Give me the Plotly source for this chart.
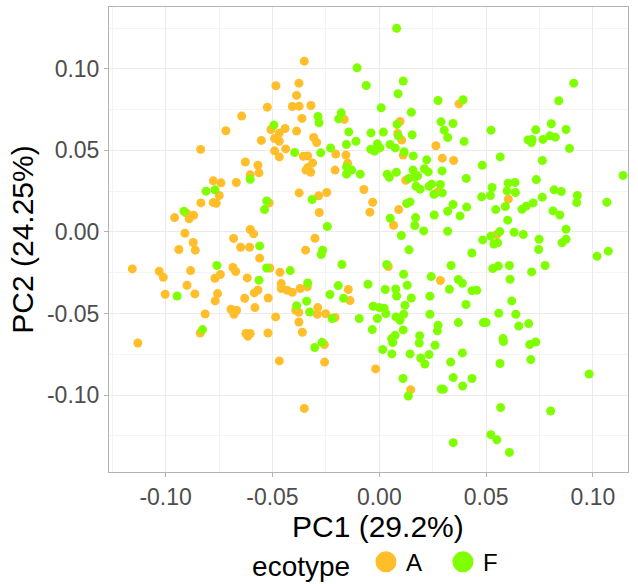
import plotly.graph_objects as go

# PCA scores per ecotype
A_pc1 = [-0.0484, -0.0524, -0.0644, -0.0507, -0.0468, -0.0718, -0.0490, -0.0468, -0.0552, -0.0836,
         -0.0490, -0.0468, -0.0627, -0.0568, -0.0351, -0.0376, -0.0387, -0.0407, -0.0375, -0.0320,
         -0.0362, -0.0164, 0.0097, -0.0441, -0.0387, 0.0086, 0.0105, -0.0307, -0.0293, -0.0438,
         -0.0204, -0.0156, 0.0112, 0.0265, 0.0295, 0.0348, -0.0356, -0.0335, -0.0312, -0.0148,
         0.0373, -0.0563, -0.0604, -0.0777, -0.0741, -0.0669, -0.0749, -0.0835, -0.0777, -0.0763,
         -0.0515, -0.0902, -0.0869, -0.0890, -0.0958, -0.0604, -0.0588, -0.0910, -0.0682, -0.0871,
         -0.0938, -0.0861, -0.0649, -0.0607, -0.0560, -0.1156, -0.1030, -0.1011, -0.0883, -0.0769,
         -0.0744, -0.0685, -0.0672, -0.0618, -0.0512, -0.0465, -0.0900, -0.1002, -0.0863, -0.0757,
         -0.0768, -0.0568, -0.0585, -0.0630, -0.0520, -0.0459, -0.0459, -0.0582, -0.0694, -0.0668,
         -0.0680, -0.0815, -0.0485, -0.0343, -0.0321, -0.0334, -0.0207, 0.0124, 0.0272, -0.0375,
         -0.0284, -0.0246, -0.0072, -0.0031, -0.0044, -0.0281, 0.0091, 0.0067, -0.0301, -0.0345,
         0.0042, 0.0286, -0.0337, -0.0370, -0.0431, -0.0407, -0.0145, -0.0137, -0.0391, -0.0377,
         -0.0288, -0.0290, -0.0251, -0.0207, 0.0604, 0.0551, -0.1130, -0.0838, -0.0624, -0.0604,
         -0.0615, -0.0521, -0.0468, -0.0376, -0.0360, -0.0257, -0.0256, -0.0017, 0.0147, -0.0351]
A_pc2 = [0.0896, 0.0765, 0.0710, 0.0628, 0.0606, 0.0620, 0.0573, 0.0556, 0.0561, 0.0506,
         0.0497, 0.0460, 0.0429, 0.0409, 0.1047, 0.0912, 0.0837, 0.0769, 0.0771, 0.0775,
         0.0696, 0.0690, 0.0677, 0.0634, 0.0618, 0.0604, 0.0563, 0.0579, 0.0548, 0.0509,
         0.0477, 0.0471, 0.0471, 0.0528, 0.0452, 0.0438, 0.0464, 0.0466, 0.0423, 0.0421,
         0.0785, 0.0362, 0.0350, 0.0313, 0.0301, 0.0303, 0.0223, 0.0178, 0.0180, 0.0176,
         0.0178, 0.0115, 0.0102, 0.0080, 0.0088, 0.0015, -0.0012, -0.0008, -0.0040, -0.0065,
         -0.0108, -0.0112, -0.0094, -0.0094, -0.0161, -0.0227, -0.0241, -0.0278, -0.0237, -0.0284,
         -0.0261, -0.0218, -0.0243, -0.0282, -0.0221, -0.0247, -0.0327, -0.0382, -0.0380, -0.0378,
         -0.0423, -0.0356, -0.0374, -0.0407, -0.0405, -0.0317, -0.0347, -0.0464, -0.0474, -0.0480,
         -0.0505, -0.0503, -0.0521, 0.0379, 0.0366, 0.0395, 0.0379, 0.0317, 0.0244, 0.0239,
         0.0221, 0.0242, 0.0260, 0.0182, 0.0121, 0.0119, 0.0137, 0.0041, -0.0039, -0.0112,
         -0.0212, -0.0298, -0.0337, -0.0347, -0.0358, -0.0370, -0.0353, -0.0421, -0.0480, -0.0493,
         -0.0464, -0.0505, -0.0501, -0.0525, 0.0201, -0.0016, -0.0681, -0.0620, -0.0623, -0.0623,
         -0.0640, -0.0620, -0.0791, -0.0552, -0.0615, -0.0691, -0.0798, -0.0840, -0.0967, -0.1082]

F_pc1 = [-0.0493, 0.0081, -0.0104, -0.0061, 0.0112, 0.0088, 0.0009, 0.0275, -0.0287, -0.0282,
         -0.0178, -0.0190, 0.0150, 0.0083, 0.0289, 0.0345, -0.0143, -0.0039, 0.0019, 0.0089,
         0.0304, 0.0320, 0.0154, -0.0396, -0.0274, -0.0228, -0.0154, -0.0109, -0.0040, -0.0022,
         -0.0009, 0.0003, 0.0050, 0.0075, 0.0116, 0.0159, 0.0222,
         0.0910, 0.0392, 0.0840, 0.0523, 0.0805, 0.0732, 0.0874, 0.0397, 0.0696, 0.0715,
         0.0712, 0.0766, 0.0798, 0.0824, 0.0890, 0.0566, 0.0763, 0.0482,
         -0.0604, -0.0811, -0.0769, -0.0527, -0.0537, -0.0914, -0.0560, -0.0760, -0.0527, -0.0563,
         -0.0946,
         -0.0153, -0.0153, -0.0129, -0.0089, 0.0037, 0.0047, 0.0080, 0.0138, 0.0158, 0.0167,
         0.0180, 0.0211, 0.0229, 0.0294, 0.0172, 0.0191, 0.0233, 0.0245, 0.0286, 0.0256,
         0.0295, -0.0314, -0.0243, 0.0128, 0.0144, 0.0051, 0.0170, 0.0166, 0.0257, 0.0320,
         0.0345, 0.0208, 0.0320, 0.0103, -0.0265, -0.0272, 0.0139, -0.0175, 0.0035, 0.0336,
         -0.0417, 0.0114, 0.0243, 0.0328, -0.0335, -0.0192, -0.0053, -0.0231, -0.0167, 0.0028,
         0.0077, 0.0081, 0.0131, 0.0150, 0.0237, -0.0340, -0.0387, -0.0326, -0.0221, -0.0094,
         -0.0029, 0.0000, 0.0023, 0.0031, -0.0009, 0.0078, 0.0114, 0.0120, 0.0237,
         0.0407, 0.0528, 0.0603, 0.0635, 0.0598, 0.0637, 0.0735, 0.0818, 0.0852, 0.0927,
         0.0924, 0.1065, 0.1141, 0.0479, 0.0520, 0.0409, 0.0378, 0.0590, 0.0545, 0.0668,
         0.0688, 0.0720, 0.0763, 0.0813, 0.0845, 0.0601, 0.0564, 0.0522, 0.0484, 0.0631,
         0.0674, 0.0536, 0.0554, 0.0874, 0.0874, 0.0855, 0.0748, 0.0746, 0.0433, 0.1019,
         0.1072, 0.0531, 0.0557, 0.0609, 0.0713, 0.0776, 0.0612, 0.0370, 0.0389, 0.0434,
         0.0456, 0.0406, 0.0620, 0.0559, 0.0639,
         -0.0302, -0.0268, 0.0097, -0.0033, 0.0112, 0.0074, 0.0058, 0.0063, 0.0016, 0.0059,
         0.0275, 0.0272, 0.0189, 0.0187, 0.0261, 0.0144, 0.0194, 0.0233, 0.0213, 0.0334,
         0.0346, 0.0111, 0.0136, 0.0290, 0.0300, 0.0346,
         0.0370, 0.0487, 0.0500, 0.0653, 0.0699, 0.0579, 0.0581, 0.0704, 0.0732, 0.0389,
         0.0565, 0.0709, 0.0982, 0.0390, 0.0434, 0.0568, 0.0802, 0.0522, 0.0550, 0.0609,
         -0.0827]
F_pc2 = [0.0655, 0.1248, 0.1006, 0.0898, 0.0925, 0.0847, 0.0761, 0.0806, 0.0708, 0.0669,
         0.0730, 0.0693, 0.0734, 0.0659, 0.0675, 0.0665, 0.0613, 0.0607, 0.0612, 0.0589,
         0.0624, 0.0579, 0.0595, 0.0487, 0.0485, 0.0515, 0.0536, 0.0556, 0.0507, 0.0495,
         0.0540, 0.0515, 0.0536, 0.0515, 0.0491, 0.0466, 0.0442,
         0.0912, 0.0810, 0.0804, 0.0624, 0.0663, 0.0626, 0.0628, 0.0555, 0.0564, 0.0567,
         0.0548, 0.0567, 0.0589, 0.0581, 0.0512, 0.0460, 0.0438, 0.0409,
         0.0323, 0.0250, 0.0258, 0.0190, 0.0137, 0.0127, -0.0086, -0.0206, -0.0221, -0.0296,
         -0.0393,
         0.0399, 0.0354, 0.0379, 0.0354, 0.0354, 0.0334, 0.0366, 0.0328, 0.0379, 0.0334,
         0.0344, 0.0387, 0.0368, 0.0374, 0.0280, 0.0262, 0.0280, 0.0293, 0.0291, 0.0231,
         0.0239, 0.0199, 0.0033, 0.0174, 0.0184, 0.0084, 0.0088, 0.0039, 0.0104, 0.0127,
         0.0168, 0.0006, 0.0004, -0.0022, -0.0112, -0.0139, -0.0110, -0.0200, -0.0200, -0.0206,
         -0.0237, -0.0260, -0.0274, -0.0352, -0.0313, -0.0329, -0.0321, -0.0384, -0.0407, -0.0353,
         -0.0350, -0.0393, -0.0327, -0.0405, -0.0394, -0.0425, -0.0452, -0.0491, -0.0531, -0.0531,
         -0.0456, -0.0464, -0.0468, -0.0501, -0.0531, -0.0521, -0.0505, -0.0450, -0.0505,
         0.0328, 0.0272, 0.0299, 0.0303, 0.0252, 0.0242, 0.0321, 0.0258, 0.0248, 0.0223,
         0.0180, 0.0182, 0.0346, 0.0215, 0.0223, 0.0152, 0.0098, 0.0156, 0.0137, 0.0139,
         0.0158, 0.0178, 0.0213, 0.0129, 0.0104, 0.0072, 0.0002, -0.0026, -0.0049, -0.0002,
         -0.0016, -0.0074, -0.0067, 0.0017, -0.0045, -0.0067, -0.0045, -0.0108, -0.0129, -0.0149,
         -0.0118, -0.0225, -0.0209, -0.0206, -0.0245, -0.0206, -0.0290, -0.0292, -0.0315, -0.0360,
         -0.0358, -0.0445, -0.0423, -0.0499, -0.0505,
         -0.0709, -0.0677, -0.0542, -0.0599, -0.0601, -0.0634, -0.0654, -0.0679, -0.0721, -0.0748,
         -0.0572, -0.0607, -0.0636, -0.0681, -0.0695, -0.0748, -0.0773, -0.0752, -0.0810, -0.0798,
         -0.0893, -0.0899, -0.1006, -0.0963, -0.0965, -0.1292,
         -0.0556, -0.0556, -0.0556, -0.0577, -0.0562, -0.0654, -0.0672, -0.0691, -0.0675, -0.0742,
         -0.0807, -0.0783, -0.0871, -0.0945, -0.0899, -0.1077, -0.1098, -0.1243, -0.1274, -0.1352,
         -0.0599]

ECOTYPES = ["A", "F"]
COLORS = {"A": "#FFBE2A", "F": "#80FF00"}

X_TICKS = [-0.10, -0.05, 0.00, 0.05, 0.10]
Y_TICKS = [-0.10, -0.05, 0.00, 0.05, 0.10]

X_TITLE = "PC1 (29.2%)"
Y_TITLE = "PC2 (24.25%)"

assert len(A_pc1) == len(A_pc2) and len(F_pc1) == len(F_pc2)

FONT = "Liberation Sans, Arial, sans-serif"
series = {"A": (A_pc1, A_pc2), "F": (F_pc1, F_pc2)}

fig = go.Figure()
for eco in ECOTYPES:
    xs, ys = series[eco]
    fig.add_trace(go.Scatter(
        x=xs, y=ys, mode="markers", name=eco, showlegend=False,
        marker=dict(size=9, color=COLORS[eco], line=dict(width=0)),
    ))
# legend keys: larger discs than the points (outline in the same colour widens them)
for eco in ECOTYPES:
    fig.add_trace(go.Scatter(
        x=[None], y=[None], mode="markers", name=eco, showlegend=True,
        marker=dict(size=16, color=COLORS[eco], line=dict(width=5, color=COLORS[eco])),
    ))

axis_common = dict(
    showline=True, mirror=True, linecolor="#B3B3B3", linewidth=1,
    ticks="outside", ticklen=4, tickcolor="#B3B3B3", tickwidth=1,
    tickfont=dict(family=FONT, size=23, color="#4D4D4D"),
    showgrid=True, gridcolor="#EBEBEB", gridwidth=1,
    minor=dict(dtick=0.025, tick0=0, showgrid=True, gridcolor="#F4F4F4", gridwidth=0.7, ticks=""),
    zeroline=False,
)

fig.update_xaxes(
    range=[-0.1265, 0.1164],
    tickmode="array", tickvals=X_TICKS, ticktext=[f"{v:.2f}" for v in X_TICKS],
    **axis_common,
)
fig.update_yaxes(
    range=[-0.1472, 0.1379],
    tickmode="array", tickvals=Y_TICKS, ticktext=[f"{v:.2f}" for v in Y_TICKS],
    title=dict(text=Y_TITLE, font=dict(family=FONT, size=30, color="black"), standoff=4),
    **axis_common,
)

# x-axis title placed under the tick labels
fig.add_annotation(
    text=X_TITLE, xref="paper", yref="paper", x=0.518, y=-0.117,
    xanchor="center", yanchor="middle", showarrow=False,
    font=dict(family=FONT, size=30, color="black"),
)

fig.update_layout(
    width=638, height=584,
    margin=dict(l=109, r=10, t=7, b=112, autoexpand=False),
    paper_bgcolor="white", plot_bgcolor="white",
    font=dict(family=FONT, color="black"),
    legend=dict(
        orientation="h", x=0.532, xanchor="center", y=-0.196, yanchor="middle",
        title=dict(text="ecotype ", side="left", font=dict(family=FONT, size=28, color="black")),
        font=dict(family=FONT, size=24, color="black"),
        itemsizing="trace", entrywidth=32,
        bgcolor="rgba(0,0,0,0)",
    ),
)

fig.write_html("out.html")
